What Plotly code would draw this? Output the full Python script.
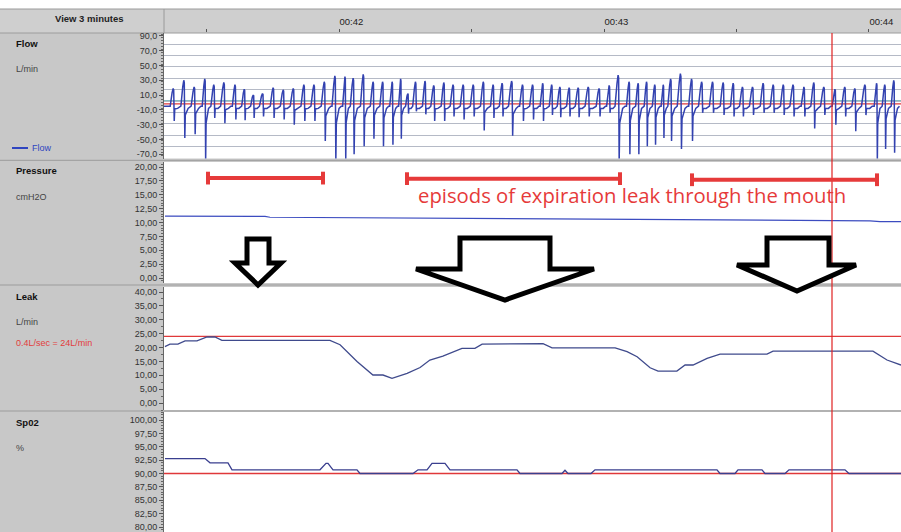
import plotly.graph_objects as go

W, H = 901, 532

# ---------------- data ----------------
# time in minutes after 00:00
time_tickvals = [42, 43, 44]
time_ticktext = ["00:42", "00:43", "00:44"]
x_range = [41.3396, 44.1208]
cursor_time = 43.8604

# Flow (L/min): per-breath peak time, inspiratory peak, expiratory trough
flow_peak_time = [
    41.375, 41.415, 41.454, 41.494, 41.528, 41.566, 41.608, 41.643, 41.677, 41.712,
    41.752, 41.790, 41.828, 41.868, 41.906, 41.945, 41.985, 42.023, 42.054, 42.092,
    42.129, 42.165, 42.201, 42.233, 42.260, 42.289, 42.325, 42.358, 42.396, 42.431,
    42.469, 42.507, 42.545, 42.582, 42.616, 42.652, 42.693, 42.731, 42.769, 42.803,
    42.834, 42.869, 42.903, 42.941, 42.982, 43.020, 43.054, 43.095, 43.129, 43.161,
    43.192, 43.224, 43.252, 43.289, 43.331, 43.369, 43.410, 43.450, 43.488, 43.523,
    43.561, 43.601, 43.639, 43.677, 43.714, 43.755, 43.792, 43.830, 43.872, 43.909,
    43.947, 43.985, 44.029, 44.060, 44.094]
flow_peak = [
    19, 30, 21, 32, 24, 27, 24, 18, 10, 12,
    20, 17, 19, 24, 24, 28, 36, 35, 33, 38,
    28, 28, 28, 32, 12, 28, 29, 23, 27, 24,
    24, 24, 28, 24, 26, 29, 24, 24, 26, 24,
    21, 20, 20, 21, 19, 23, 37, 28, 26, 28,
    24, 24, 32, 39, 32, 28, 28, 27, 26, 21,
    21, 26, 24, 24, 24, 21, 27, 21, 18, 21,
    19, 24, 26, 24, 30]
flow_trough = [
    -25, -48, -43, -80, -21, -28, -23, -24, -21, -19,
    -21, -23, -30, -25, -25, -52, -80, -78, -70, -59,
    -49, -59, -57, -49, -15, -12, -16, -25, -25, -19,
    -23, -19, -38, -21, -19, -45, -25, -23, -25, -17,
    -20, -19, -20, -19, -19, -14, -80, -70, -70, -59,
    -57, -48, -52, -63, -52, -14, -14, -17, -19, -19,
    -17, -14, -14, -17, -19, -19, -35, -17, -30, -19,
    -39, -17, -80, -63, -68]
flow_baseline = -5.0
flow_ref = -2.0
flow_zero_grid = 2.0

# Pressure (cmH2O)
pressure_time = [41.3434, 41.7208, 41.7396, 42.4943, 42.9849, 43.4755, 44.0038, 44.0415, 44.1208]
pressure_val = [11.15, 11.1, 10.95, 10.75, 10.6, 10.4, 10.3, 10.15, 10.15]

# Leak (L/min)
leak_time = [41.343, 41.362, 41.392, 41.419, 41.464, 41.502, 41.532, 41.558, 41.966, 42.004,
             42.068, 42.128, 42.166, 42.200, 42.257, 42.306, 42.343, 42.392, 42.464, 42.513,
             42.540, 42.770, 42.804, 43.042, 43.087, 43.125, 43.174, 43.204, 43.275, 43.306,
             43.336, 43.389, 43.438, 43.615, 43.638, 44.015, 44.068, 44.121]
leak_val = [20.3, 21.2, 21.2, 22.4, 22.4, 23.8, 23.8, 22.6, 22.6, 21.0,
            15.0, 10.1, 10.1, 8.9, 10.7, 12.8, 15.5, 16.9, 19.7, 19.7,
            21.2, 21.4, 19.9, 19.9, 18.5, 16.7, 12.7, 11.5, 11.5, 13.7,
            13.7, 16.1, 17.6, 17.6, 18.7, 18.7, 15.5, 13.7]
leak_ref = 24.0

# SpO2 (%)
spo2_time = [41.3434, 41.4943, 41.5132, 41.5811, 41.5962, 41.9283, 41.9509, 41.9585, 41.9774,
             42.0679, 42.0792, 42.2792, 42.2981, 42.3321, 42.3509, 42.4000, 42.4189, 42.6717,
             42.6830, 42.8415, 42.8528, 42.8642, 42.9509, 42.9660, 43.4264, 43.4377, 43.4943,
             43.5057, 43.5962, 43.6075, 43.6830, 43.6981, 43.9094, 43.9245, 44.1208]
spo2_val = [92.8, 92.8, 92.0, 92.0, 90.7, 90.7, 91.9, 91.9, 90.7,
            90.7, 90.0, 90.0, 90.7, 90.7, 91.9, 91.9, 90.7, 90.7,
            90.0, 90.0, 90.6, 90.0, 90.0, 90.7, 90.7, 90.0, 90.0,
            90.7, 90.7, 90.0, 90.0, 90.7, 90.7, 90.0, 90.0]
spo2_ref = 90.0

# axis ticks
flow_ticks = [-70, -50, -30, -10, 10, 30, 50, 70, 90]
pressure_ticks = [0, 2.5, 5, 7.5, 10, 12.5, 15, 17.5, 20]
leak_ticks = [0, 5, 10, 15, 20, 25, 30, 35, 40]
spo2_ticks = [80, 82.5, 85, 87.5, 90, 92.5, 95, 97.5, 100]

# annotated episodes (minutes) and their bracket level (cmH2O axis)
episodes = [(41.5057, 41.9396), (42.2566, 43.0604), (43.3321, 44.0302)]
episode_level = [18.0, 17.9, 17.7]
episode_text = "episods of expiration leak through the mouth"

# ---------------- layout helpers ----------------
def px(x):
    return x / W

def py(y):
    return 1 - y / H

def fmt_ticks(vals, dec):
    return [f"{v:.{dec}f}".replace(".", ",") for v in vals]

X0 = 164
xdom = [px(X0), 1.0]
dom_flow = [py(158.5), py(33)]
dom_pres = [py(283), py(162)]
dom_leak = [py(410), py(287)]
dom_spo2 = [py(532), py(412)]

rng_flow = [-75.7, 93.9]
rng_pres = [-0.9, 20.9]
rng_leak = [-2.5, 41.8]
rng_spo2 = [79.07, 101.5]

# ---------------- flow waveform from per-breath readings ----------------
breath_shape = [(-0.30, "b", 1.0), (-0.12, "p", 0.7), (-0.02, "p", 1.0), (0.03, "p", 0.9),
                (0.08, "t", 1.0), (0.13, "t", 0.35), (0.40, "b", 1.6), (0.62, "b", 1.0)]
flow_t = [x_range[0]]
flow_v = [flow_baseline]
n = len(flow_peak_time)
for i in range(n):
    tp = flow_peak_time[i]
    P = (flow_peak_time[i + 1] - tp) if i < n - 1 else (tp - flow_peak_time[i - 1])
    for off, kind, k in breath_shape:
        if kind == "b":
            v = flow_baseline * k
        elif kind == "p":
            v = flow_peak[i] * k
        else:
            v = min(flow_trough[i] * k, -8) if k < 1 else flow_trough[i]
        flow_t.append(tp + off * P)
        flow_v.append(v)

# ---------------- figure ----------------
fig = go.Figure()
fig.add_trace(go.Scatter(x=flow_t, y=flow_v, mode="lines", xaxis="x", yaxis="y",
                         line=dict(color="#3342b0", width=1.5), hoverinfo="skip", name="Flow"))
fig.add_trace(go.Scatter(x=pressure_time, y=pressure_val, mode="lines", xaxis="x2", yaxis="y2",
                         line=dict(color="#3c4cc0", width=1.2), hoverinfo="skip"))
fig.add_trace(go.Scatter(x=leak_time, y=leak_val, mode="lines", xaxis="x3", yaxis="y3",
                         line=dict(color="#3f4a8c", width=1.3), hoverinfo="skip"))
fig.add_trace(go.Scatter(x=spo2_time, y=spo2_val, mode="lines", xaxis="x4", yaxis="y4",
                         line=dict(color="#3a3f8f", width=1.3), hoverinfo="skip"))
# dummy traces for overlay (grid) axes
for ya in ["y5", "y6", "y7", "y8"]:
    fig.add_trace(go.Scatter(x=[None], y=[None], xaxis="x", yaxis=ya, showlegend=False,
                             hoverinfo="skip"))

tickfont = dict(family="Liberation Sans, Arial, sans-serif", size=9, color="#333333")
GRID = "#b5bac6"

def yprim(dom, rng, ticks, dec, anchor, ruler):
    return dict(domain=dom, range=rng, tickmode="array", tickvals=ticks,
                ticktext=fmt_ticks(ticks, dec), ticklabeloverflow="allow",
                ticks="outside", ticklen=4, tickcolor="#555555", tickfont=tickfont,
                showgrid=False, zeroline=False, showline=True, linecolor="#666666",
                linewidth=1, anchor=anchor, automargin=False, fixedrange=True,
                minor=dict(dtick=ruler, tick0=rng[0] - rng[0] % ruler, ticks="outside",
                           ticklen=2, tickcolor="#666666", showgrid=False))

def ygrid(over, rng, tick0, dtick):
    return dict(overlaying=over, range=rng, tickmode="linear", tick0=tick0, dtick=dtick,
                showgrid=True, gridcolor=GRID, gridwidth=1.2, showticklabels=False,
                ticks="", zeroline=False, showline=False, anchor="x", automargin=False,
                fixedrange=True)

xcommon = dict(domain=xdom, range=x_range, showgrid=False, zeroline=False, automargin=False,
               fixedrange=True)

fig.update_layout(
    width=W, height=H, autosize=False,
    margin=dict(l=0, r=0, t=0, b=0),
    paper_bgcolor="#c8c8c8", plot_bgcolor="#ffffff",
    showlegend=False,
    xaxis=dict(**xcommon, anchor="y", side="top", tickmode="array", tickvals=time_tickvals,
               ticktext=time_ticktext, ticks="outside", ticklen=3, tickcolor="#555555",
               ticklabelposition="outside right", ticklabelstandoff=3,
               tickfont=dict(family="Liberation Sans, Arial, sans-serif", size=9.5, color="#222222"),
               showline=False,
               minor=dict(tick0=41.5, dtick=0.5, ticks="outside", ticklen=3, tickcolor="#555555")),
    xaxis2=dict(**xcommon, anchor="y2", matches="x", showticklabels=False, ticks=""),
    xaxis3=dict(**xcommon, anchor="y3", matches="x", showticklabels=False, ticks=""),
    xaxis4=dict(**xcommon, anchor="y4", matches="x", showticklabels=False, ticks=""),
    yaxis=yprim(dom_flow, rng_flow, flow_ticks, 1, "x", 4),
    yaxis2=yprim(dom_pres, rng_pres, pressure_ticks, 2, "x2", 0.5),
    yaxis3=yprim(dom_leak, rng_leak, leak_ticks, 2, "x3", 2.5),
    yaxis4=yprim(dom_spo2, rng_spo2, spo2_ticks, 2, "x4", 0.5),
    yaxis5=ygrid("y", rng_flow, flow_zero_grid, 15.4),
    yaxis6=ygrid("y2", rng_pres, 0, 5),
    yaxis7=ygrid("y3", rng_leak, 0, 10),
    yaxis8=ygrid("y4", rng_spo2, 80, 4),
)

shapes = []
# chrome: white top strip, header band, separators
shapes.append(dict(type="rect", xref="paper", yref="paper", x0=0, x1=1, y0=py(9), y1=1,
                   fillcolor="#ffffff", line=dict(width=0), layer="below"))
shapes.append(dict(type="rect", xref="paper", yref="paper", x0=0, x1=1, y0=py(33), y1=py(9),
                   fillcolor="#cfcfcf", line=dict(width=0), layer="below"))
shapes.append(dict(type="line", xref="paper", yref="paper", x0=0, x1=1, y0=py(9), y1=py(9),
                   line=dict(color="#9a9a9a", width=1), layer="below"))
shapes.append(dict(type="line", xref="paper", yref="paper", x0=px(X0), x1=px(X0), y0=py(33), y1=py(9),
                   line=dict(color="#9a9a9a", width=1), layer="below"))
for ysep in [33, 160.3, 285, 411]:
    shapes.append(dict(type="line", xref="paper", yref="paper", x0=0, x1=1, y0=py(ysep), y1=py(ysep),
                       line=dict(color="#9c9c9c", width=1), layer="below"))

# reference lines
shapes.append(dict(type="line", xref="x", yref="y", x0=x_range[0], x1=x_range[1],
                   y0=flow_zero_grid, y1=flow_zero_grid, line=dict(color="#5ea8aa", width=1.6), layer="below"))
shapes.append(dict(type="line", xref="x", yref="y", x0=x_range[0], x1=x_range[1],
                   y0=flow_ref, y1=flow_ref, line=dict(color="#e0383a", width=1.2), layer="below"))
shapes.append(dict(type="line", xref="x3", yref="y3", x0=x_range[0], x1=x_range[1],
                   y0=leak_ref, y1=leak_ref, line=dict(color="#e0383a", width=1.2), layer="below"))
shapes.append(dict(type="line", xref="x4", yref="y4", x0=x_range[0], x1=x_range[1],
                   y0=spo2_ref, y1=spo2_ref, line=dict(color="#e0383a", width=1.6), layer="below"))

# cursor
shapes.append(dict(type="line", xref="x", yref="paper", x0=cursor_time, x1=cursor_time,
                   y0=0, y1=py(33), line=dict(color="#e02020", width=1.2), layer="above"))

# episode brackets
RED = "#e63a3a"
for (t0, t1), lev in zip(episodes, episode_level):
    shapes.append(dict(type="line", xref="x2", yref="y2", x0=t0, x1=t1, y0=lev, y1=lev,
                       line=dict(color=RED, width=4), layer="above"))
    for tt in (t0, t1):
        shapes.append(dict(type="line", xref="x2", yref="y2", x0=tt, x1=tt, y0=lev - 1.15, y1=lev + 1.15,
                           line=dict(color=RED, width=4), layer="above"))

# hollow arrows (drawn annotations)
arrows = [
    [(247, 239), (269, 239), (269, 263), (281, 263), (258, 285), (235, 263), (247, 263)],
    [(460, 238), (550, 238), (550, 269), (594, 269), (505, 300), (416, 269), (460, 269)],
    [(767, 238), (829, 238), (829, 265), (856, 265), (797, 291), (737, 265), (767, 265)],
]
for pts in arrows:
    path = "M " + " L ".join(f"{px(x):.5f},{py(y):.5f}" for x, y in pts) + " Z"
    shapes.append(dict(type="path", xref="paper", yref="paper", path=path,
                       fillcolor="#ffffff", line=dict(color="#000000", width=5), layer="above"))

# legend line for Flow
shapes.append(dict(type="line", xref="paper", yref="paper", x0=px(12), x1=px(28), y0=py(148), y1=py(148),
                   line=dict(color="#2f45c0", width=2), layer="above"))
fig.update_layout(shapes=shapes)

LF = "Liberation Sans, Arial, sans-serif"
def lab(text, x, y, size=9, color="#333333", bold=False, xanchor="left"):
    t = f"<b>{text}</b>" if bold else text
    return dict(text=t, xref="paper", yref="paper", x=px(x), y=py(y), xanchor=xanchor,
                yanchor="middle", showarrow=False, font=dict(family=LF, size=size, color=color))

annotations = [
    lab("View 3 minutes", 89, 19, size=9.5, color="#222222", bold=True, xanchor="center"),
    lab("Flow", 14, 43.5, size=9.5, color="#111111", bold=True),
    lab("L/min", 14, 69, color="#444444"),
    lab("Flow", 30, 148, color="#2f45c0"),
    lab("Pressure", 14, 170.5, size=9.5, color="#111111", bold=True),
    lab("cmH2O", 14, 196.5, color="#444444"),
    lab("Leak", 14, 296.5, size=9.5, color="#111111", bold=True),
    lab("L/min", 14, 322, color="#444444"),
    lab("0.4L/sec = 24L/min", 14, 343, color="#e23c3c"),
    lab("Sp02", 14, 422, size=9.5, color="#111111", bold=True),
    lab("%", 14, 448, color="#444444"),
    dict(text=episode_text, xref="x2", yref="y2", x=43.106, y=15.0, xanchor="center",
         yanchor="middle", showarrow=False,
         font=dict(family="Open Sans, sans-serif", size=20.3, color="#e63a3a")),
]
fig.update_layout(annotations=annotations)

fig.write_html("out.html", config={"displayModeBar": False},
               post_script="document.body.style.margin='0px';")
